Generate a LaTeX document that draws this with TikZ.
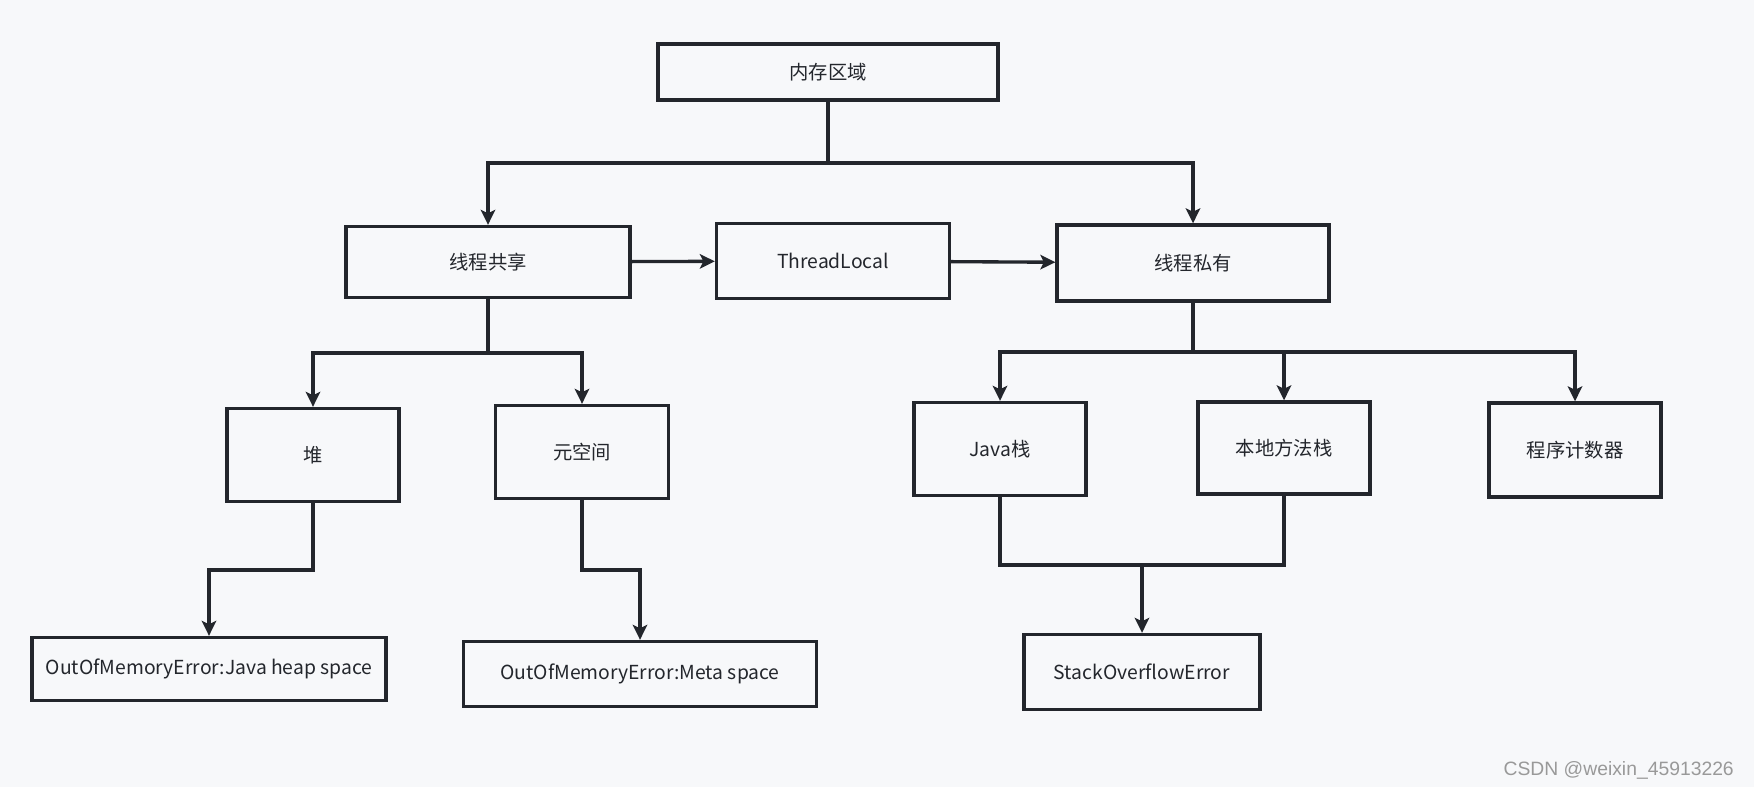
\documentclass[tikz,border=0pt]{standalone}
\usepackage{fontspec}
\setmainfont{Noto Sans CJK SC}
\newfontfamily\markfont{Liberation Sans}
\usetikzlibrary{calc,shapes,positioning}
\usetikzlibrary{arrows.meta}
\definecolor{bgcol}{HTML}{F7F8FA}
\definecolor{ink}{HTML}{23262C}
\tikzset{>={Stealth[width=2.9mm,length=3mm,inset=0.7mm]}}

\begin{document}
\begin{tikzpicture}[x=0.02cm, y=-0.02cm, font=\fontsize{11}{13}\selectfont]
          \tikzstyle{bnode} = [draw=ink, line width=1.9pt, rectangle, fill=bgcol, text=ink, inner sep = 2pt, align=center]
          \tikzstyle{link} = [draw=ink, line width=1.9pt]
          \fill[bgcol] (0,0) rectangle (1754,787);
          \useasboundingbox (0,0) rectangle (1754,787);

          % top level
          \node[bnode, minimum width=6.8cm, minimum height=1.12cm] (mem) at (828,72) {内存区域};
          \node[bnode, minimum width=5.68cm, minimum height=1.42cm] (shared) at (488,262) {线程共享};
          \node[bnode, minimum width=4.66cm, minimum height=1.5cm] (tl) at (833,261) {ThreadLocal};
          \node[bnode, minimum width=5.44cm, minimum height=1.52cm] (priv) at (1193,263) {线程私有};

          % areas
          \node[bnode, minimum width=3.44cm, minimum height=1.86cm] (heap) at (313,455) {堆};
          \node[bnode, minimum width=3.46cm, minimum height=1.86cm] (meta) at (582,452) {元空间};
          \node[bnode, minimum width=3.44cm, minimum height=1.86cm] (jstack) at (1000,449) {Java栈};
          \node[bnode, minimum width=3.44cm, minimum height=1.84cm] (native) at (1284,448) {本地方法栈};
          \node[bnode, minimum width=3.44cm, minimum height=1.88cm] (pc) at (1575,450) {程序计数器};

          % errors
          \node[bnode, minimum width=7.08cm, minimum height=1.26cm] (oomh) at (209,669) {OutOfMemoryError:Java heap space};
          \node[bnode, minimum width=7.06cm, minimum height=1.3cm] (oomm) at (640,674) {OutOfMemoryError:Meta space};
          \node[bnode, minimum width=4.72cm, minimum height=1.5cm] (soe) at (1142,672) {StackOverflowError};

          \node[text=black!40, font=\markfont\fontsize{11}{13}\selectfont, anchor=east] (mark) at (1740,770) {CSDN @weixin\_45913226};

          % connectors
          \coordinate (j1) at (828,163);
          \coordinate (j2) at (488,353);
          \coordinate (j3) at (1193,352);
          \coordinate (j4) at (313,570);
          \coordinate (j5) at (582,570);
          \coordinate (j6) at (1142,565);

          \draw[link] (mem.south) -- (j1);
          \draw[link,->] (j1) -| (shared.north);
          \draw[link,->] (j1) -| (priv.north);
          \draw[link,->] (shared) -- (tl);
          \draw[link,->] (tl) -- (priv);

          \draw[link] (shared.south) -- (j2);
          \draw[link,->] (j2) -| (heap.north);
          \draw[link,->] (j2) -| (meta.north);

          \draw[link] (priv.south) -- (j3);
          \draw[link,->] (j3) -| (jstack.north);
          \draw[link,->] (j3) -| (native.north);
          \draw[link,->] (j3) -| (pc.north);

          \draw[link,->] (heap.south) -- (j4) -| (oomh.north);
          \draw[link,->] (meta.south) -- (j5) -| (oomm.north);
          \draw[link] (jstack.south) |- (j6) -| (native.south);
          \draw[link,->] (j6) -- (soe.north);
        \end{tikzpicture}
\end{document}
